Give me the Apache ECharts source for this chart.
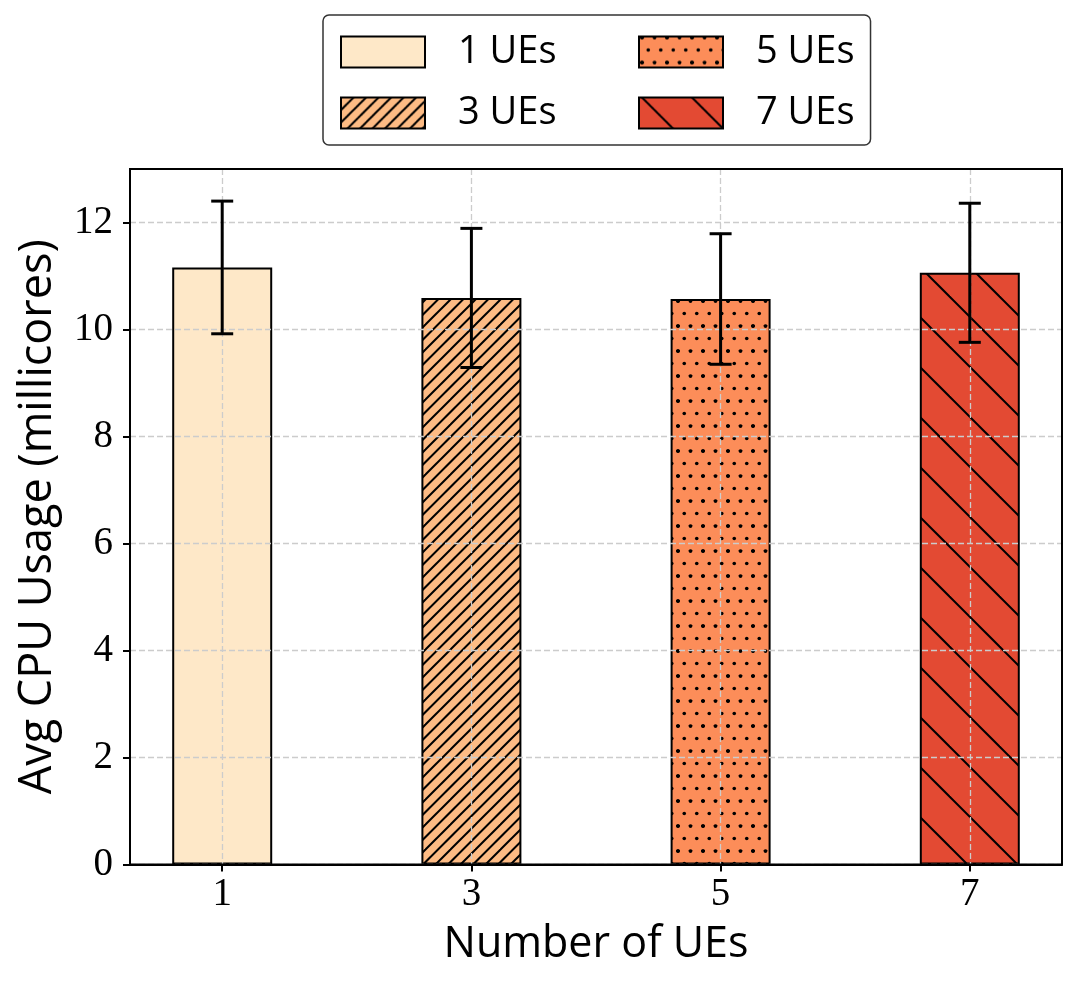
<!DOCTYPE html>
<html>
<head>
<meta charset="utf-8">
<script src="https://cdn.jsdelivr.net/npm/echarts@6/dist/echarts.min.js"></script>
<style>
  html, body { margin: 0; padding: 0; background: #fff; }
  #chart { width: 1079px; height: 987px; }
</style>
</head>
<body>
<div id="chart"></div>
<script>
// data
const ueCounts = [1, 3, 5, 7];
const seriesNames = ['1 UEs', '3 UEs', '5 UEs', '7 UEs'];
const cpuMean = [11.16, 10.59, 10.57, 11.06];
const cpuErr = [1.24, 1.30, 1.22, 1.30];
const yTicks = [0, 2, 4, 6, 8, 10, 12];

const barColors = ['#fee8c8', '#fdbb84', '#fc8d59', '#e34a33'];
const hatches = ['', '////', '....', '\\'];

// canvas tiles that mimic the matplotlib hatches
function makeFill(bg, hatch) {
  if (!hatch) return bg;
  const size = hatch === '\\' ? 50 : 25;
  const cv = document.createElement('canvas');
  cv.width = size;
  cv.height = size;
  const ctx = cv.getContext('2d');
  ctx.fillStyle = bg;
  ctx.fillRect(0, 0, size, size);
  ctx.strokeStyle = '#000';
  ctx.fillStyle = '#000';
  ctx.lineWidth = 2;
  if (hatch === '////') {
    // lines x + y = k
    const step = 12.5;
    for (let k = -step; k <= 2 * size + step; k += step) {
      ctx.beginPath();
      ctx.moveTo(k + 1, -1);
      ctx.lineTo(-1, k + 1);
      ctx.stroke();
    }
  } else if (hatch === '....') {
    const pts = [[0, 0], [12.5, 0], [25, 0], [0, 25], [12.5, 25], [25, 25], [6.25, 12.5], [18.75, 12.5]];
    const dot = (x, y) => {
      ctx.beginPath();
      ctx.arc(x, y, 1.8, 0, Math.PI * 2);
      ctx.fill();
    };
    pts.forEach(([x, y]) => {
      dot(x + 3, y + 1);
      dot(x + 3 - 25, y + 1);
      dot(x + 3, y + 1 - 25);
    });
  } else {
    for (let k = -size; k <= size; k += size) {
      ctx.beginPath();
      ctx.moveTo(k + 3 - 1, -1);
      ctx.lineTo(k + 3 + size + 1, size + 1);
      ctx.stroke();
    }
  }
  return { image: cv, repeat: 'repeat' };
}

const textSans = 'Open Sans';
const textSerif = 'Liberation Serif';

const barSeries = seriesNames.map((name, i) => ({
  type: 'bar',
  name,
  data: [[ueCounts[i], cpuMean[i]]],
  barWidth: 100,
  barGap: '-100%',
  z: 2,
  itemStyle: {
    color: makeFill(barColors[i], hatches[i]),
    borderColor: '#000',
    borderWidth: 2
  }
}));

const errSeries = {
  type: 'custom',
  name: 'err',
  z: 10,
  data: ueCounts.map((x, i) => [x, cpuMean[i] - cpuErr[i], cpuMean[i] + cpuErr[i]]),
  encode: { x: 0, y: [1, 2] },
  renderItem: (params, api) => {
    const lo = api.coord([api.value(0), api.value(1)]);
    const hi = api.coord([api.value(0), api.value(2)]);
    const cap = 11;
    const style = { stroke: '#000', lineWidth: 3 };
    return {
      type: 'group',
      children: [
        { type: 'line', shape: { x1: lo[0], y1: lo[1], x2: hi[0], y2: hi[1] }, style },
        { type: 'line', shape: { x1: hi[0] - cap, y1: hi[1], x2: hi[0] + cap, y2: hi[1] }, style },
        { type: 'line', shape: { x1: lo[0] - cap, y1: lo[1], x2: lo[0] + cap, y2: lo[1] }, style }
      ]
    };
  }
};

const legendText = {
  fontFamily: textSans,
  fontSize: 38,
  color: '#000',
  lineHeight: 31,
  padding: [0, 0, 0, 28]
};

const legendCommon = {
  orient: 'vertical',
  icon: 'rect',
  itemWidth: 84,
  itemHeight: 31,
  itemGap: 23,
  selectedMode: false,
  textStyle: legendText
};

const gridLine = { show: true, lineStyle: { type: [6, 3], color: '#cccccc', width: 1.3 } };
const blackLine = { color: '#000', width: 2 };

const option = {
  animation: false,
  backgroundColor: '#fff',
  grid: {
    left: 130, right: 17, top: 169, bottom: 122.5,
    show: true, borderColor: '#000', borderWidth: 2, z: 4
  },
  legend: [
    Object.assign({}, legendCommon, {
      data: [seriesNames[0], seriesNames[1]],
      left: 323, top: 15,
      padding: [18, 314, 13, 17],
      backgroundColor: '#fff',
      borderColor: '#333', borderWidth: 1.5, borderRadius: 6,
      z: 4
    }),
    Object.assign({}, legendCommon, {
      data: [seriesNames[2], seriesNames[3]],
      left: 638, top: 33,
      padding: 0,
      z: 5
    })
  ],
  xAxis: {
    type: 'value',
    min: 0.26,
    max: 7.74,
    z: 3,
    name: 'Number of UEs',
    nameLocation: 'middle',
    nameGap: 59,
    nameTextStyle: { fontFamily: textSans, fontSize: 43, color: '#000' },
    axisLine: { show: true, onZero: false, lineStyle: blackLine },
    axisTick: { show: true, customValues: ueCounts, length: 7, lineStyle: blackLine },
    axisLabel: { customValues: ueCounts, margin: 11, fontFamily: textSerif, fontSize: 39, color: '#000' },
    splitLine: gridLine
  },
  yAxis: {
    type: 'value',
    min: 0,
    max: 13,
    interval: 2,
    z: 3,
    name: 'Avg CPU Usage (millicores)',
    nameLocation: 'middle',
    nameGap: 69,
    nameTextStyle: { fontFamily: textSans, fontSize: 45, color: '#000' },
    axisLine: { show: true, lineStyle: blackLine },
    axisTick: { show: true, customValues: yTicks, length: 7, lineStyle: blackLine },
    axisLabel: { customValues: yTicks, margin: 17, fontFamily: textSerif, fontSize: 39, color: '#000' },
    splitLine: gridLine
  },
  series: barSeries.concat([errSeries])
};

const chart = echarts.init(document.getElementById('chart'), null, { renderer: 'canvas' });
chart.setOption(option);
</script>
</body>
</html>
